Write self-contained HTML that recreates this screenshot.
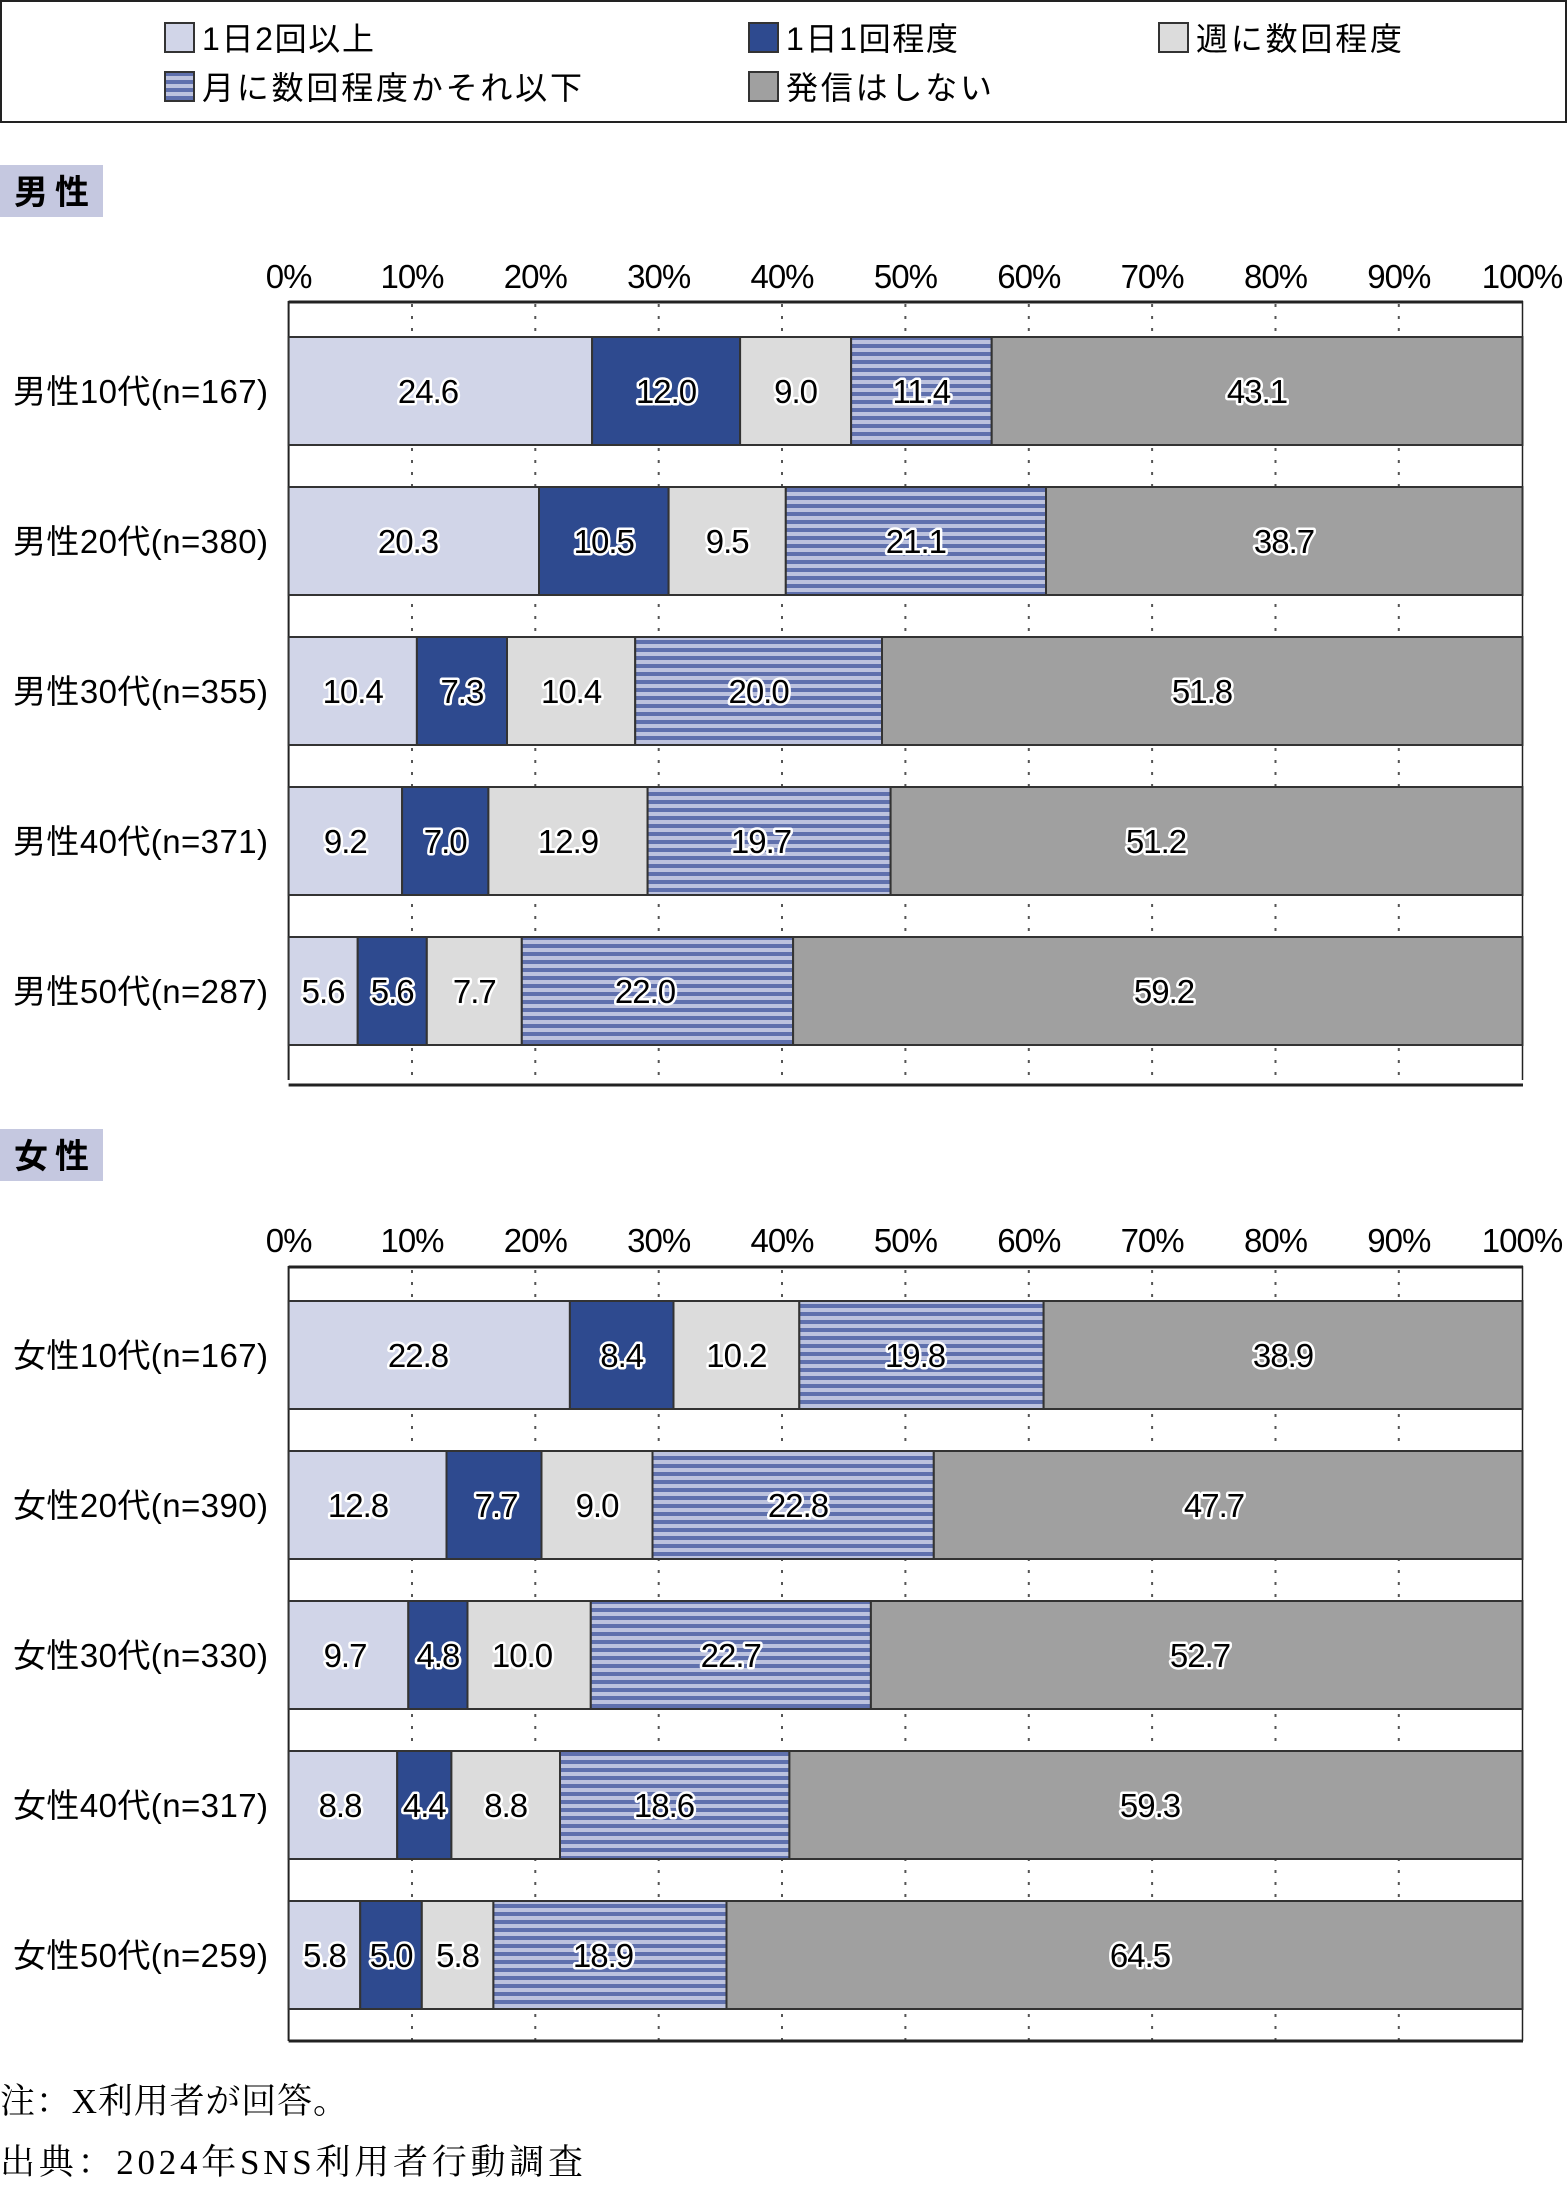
<!DOCTYPE html>
<html><head><meta charset="utf-8"><style>
body{margin:0;background:#fff}
svg{display:block}
.t{font-family:"Liberation Sans","Noto Sans CJK JP",sans-serif;fill:#000}
.v{font-family:"Liberation Sans","Noto Sans CJK JP",sans-serif;font-size:33px;text-anchor:middle;fill:#000;stroke:#fff;stroke-width:5px;paint-order:stroke;stroke-linejoin:round;letter-spacing:-1px}
.ax{font-family:"Liberation Sans",sans-serif;font-size:33px;text-anchor:middle;letter-spacing:-1px}
.c{font-family:"Liberation Sans","Noto Sans CJK JP",sans-serif;font-size:33px}
</style></head><body>
<svg width="1568" height="2187" xmlns="http://www.w3.org/2000/svg">
<defs>
<pattern id="st" width="8" height="8" patternUnits="userSpaceOnUse"><rect width="8" height="8" fill="#bcc2de"/><rect width="8" height="4" fill="#5f70ad"/></pattern>
</defs>
<rect x="1" y="1" width="1565" height="121" fill="#fff" stroke="#222" stroke-width="2"/>
<rect x="165" y="23" width="29" height="29" fill="#d1d5e8" stroke="#333" stroke-width="2"/>
<text class="t" x="202" y="50" font-size="32" textLength="172">1日2回以上</text>
<rect x="749" y="23" width="29" height="29" fill="#2e4a8f" stroke="#333" stroke-width="2"/>
<text class="t" x="786" y="50" font-size="32" textLength="172">1日1回程度</text>
<rect x="1159" y="23" width="29" height="29" fill="#dcdcdc" stroke="#333" stroke-width="2"/>
<text class="t" x="1196" y="50" font-size="32" textLength="206">週に数回程度</text>
<rect x="165" y="72" width="29" height="29" fill="url(#st)" stroke="#333" stroke-width="2"/>
<text class="t" x="202" y="99" font-size="32" textLength="380">月に数回程度かそれ以下</text>
<rect x="749" y="72" width="29" height="29" fill="#a0a0a0" stroke="#333" stroke-width="2"/>
<text class="t" x="786" y="99" font-size="32" textLength="206">発信はしない</text>

<rect x="0" y="165" width="103" height="52" fill="#c5c8e0"/>
<text class="t" x="14" y="204" font-size="34" font-weight="bold" textLength="75">男性</text>
<rect x="0" y="1129" width="103" height="52" fill="#c5c8e0"/>
<text class="t" x="14" y="1168" font-size="34" font-weight="bold" textLength="75">女性</text>

<g>
<text class="ax" x="288.6" y="288">0%</text><text class="ax" x="412" y="288">10%</text><text class="ax" x="535.3" y="288">20%</text><text class="ax" x="658.7" y="288">30%</text><text class="ax" x="782" y="288">40%</text><text class="ax" x="905.4" y="288">50%</text><text class="ax" x="1028.8" y="288">60%</text><text class="ax" x="1152.1" y="288">70%</text><text class="ax" x="1275.5" y="288">80%</text><text class="ax" x="1398.8" y="288">90%</text><text class="ax" x="1522" y="288">100%</text>
<g stroke="#555" stroke-width="2" stroke-dasharray="3,9">
<line x1="412" y1="304" x2="412" y2="1084"/><line x1="535.3" y1="304" x2="535.3" y2="1084"/><line x1="658.7" y1="304" x2="658.7" y2="1084"/><line x1="782" y1="304" x2="782" y2="1084"/><line x1="905.4" y1="304" x2="905.4" y2="1084"/><line x1="1028.8" y1="304" x2="1028.8" y2="1084"/><line x1="1152.1" y1="304" x2="1152.1" y2="1084"/><line x1="1275.5" y1="304" x2="1275.5" y2="1084"/><line x1="1398.8" y1="304" x2="1398.8" y2="1084"/>
</g>
<line x1="288.6" y1="302" x2="1523" y2="302" stroke="#222" stroke-width="3"/>
<line x1="288.6" y1="1085" x2="1523" y2="1085" stroke="#222" stroke-width="3"/>
<line x1="288.6" y1="301" x2="288.6" y2="1080" stroke="#222" stroke-width="2"/>
<line x1="1522.5" y1="301" x2="1522.5" y2="1080" stroke="#222" stroke-width="1.5"/>
</g>
<g>
<text class="ax" x="288.6" y="1252">0%</text><text class="ax" x="412" y="1252">10%</text><text class="ax" x="535.3" y="1252">20%</text><text class="ax" x="658.7" y="1252">30%</text><text class="ax" x="782" y="1252">40%</text><text class="ax" x="905.4" y="1252">50%</text><text class="ax" x="1028.8" y="1252">60%</text><text class="ax" x="1152.1" y="1252">70%</text><text class="ax" x="1275.5" y="1252">80%</text><text class="ax" x="1398.8" y="1252">90%</text><text class="ax" x="1522" y="1252">100%</text>
<g stroke="#555" stroke-width="2" stroke-dasharray="3,9">
<line x1="412" y1="1270" x2="412" y2="2040"/><line x1="535.3" y1="1270" x2="535.3" y2="2040"/><line x1="658.7" y1="1270" x2="658.7" y2="2040"/><line x1="782" y1="1270" x2="782" y2="2040"/><line x1="905.4" y1="1270" x2="905.4" y2="2040"/><line x1="1028.8" y1="1270" x2="1028.8" y2="2040"/><line x1="1152.1" y1="1270" x2="1152.1" y2="2040"/><line x1="1275.5" y1="1270" x2="1275.5" y2="2040"/><line x1="1398.8" y1="1270" x2="1398.8" y2="2040"/>
</g>
<line x1="288.6" y1="1267" x2="1523" y2="1267" stroke="#222" stroke-width="3"/>
<line x1="288.6" y1="2041" x2="1523" y2="2041" stroke="#222" stroke-width="3"/>
<line x1="288.6" y1="1266" x2="288.6" y2="2041" stroke="#222" stroke-width="2"/>
<line x1="1522.5" y1="1266" x2="1522.5" y2="2041" stroke="#222" stroke-width="1.5"/>
</g>

<g stroke="#333" stroke-width="2">
<rect x="288.6" y="337" width="303.5" height="108" fill="#d1d5e8"/><rect x="592.1" y="337" width="148" height="108" fill="#2e4a8f"/><rect x="740.1" y="337" width="111" height="108" fill="#dcdcdc"/><rect x="851.1" y="337" width="140.6" height="108" fill="url(#st)"/><rect x="991.7" y="337" width="530.8" height="108" fill="#a0a0a0"/>
<rect x="288.6" y="487" width="250.4" height="108" fill="#d1d5e8"/><rect x="539" y="487" width="129.6" height="108" fill="#2e4a8f"/><rect x="668.6" y="487" width="117.2" height="108" fill="#dcdcdc"/><rect x="785.8" y="487" width="260.2" height="108" fill="url(#st)"/><rect x="1046" y="487" width="476.5" height="108" fill="#a0a0a0"/>
<rect x="288.6" y="637" width="128.3" height="108" fill="#d1d5e8"/><rect x="416.9" y="637" width="90.1" height="108" fill="#2e4a8f"/><rect x="507" y="637" width="128.2" height="108" fill="#dcdcdc"/><rect x="635.2" y="637" width="246.8" height="108" fill="url(#st)"/><rect x="882" y="637" width="640.5" height="108" fill="#a0a0a0"/>
<rect x="288.6" y="787" width="113.5" height="108" fill="#d1d5e8"/><rect x="402.1" y="787" width="86.3" height="108" fill="#2e4a8f"/><rect x="488.4" y="787" width="159.2" height="108" fill="#dcdcdc"/><rect x="647.6" y="787" width="243" height="108" fill="url(#st)"/><rect x="890.6" y="787" width="631.9" height="108" fill="#a0a0a0"/>
<rect x="288.6" y="937" width="69.1" height="108" fill="#d1d5e8"/><rect x="357.7" y="937" width="69.1" height="108" fill="#2e4a8f"/><rect x="426.8" y="937" width="95" height="108" fill="#dcdcdc"/><rect x="521.8" y="937" width="271.3" height="108" fill="url(#st)"/><rect x="793.1" y="937" width="729.4" height="108" fill="#a0a0a0"/>
<rect x="288.6" y="1301" width="281.3" height="108" fill="#d1d5e8"/><rect x="569.9" y="1301" width="103.6" height="108" fill="#2e4a8f"/><rect x="673.5" y="1301" width="125.8" height="108" fill="#dcdcdc"/><rect x="799.3" y="1301" width="244.3" height="108" fill="url(#st)"/><rect x="1043.6" y="1301" width="478.9" height="108" fill="#a0a0a0"/>
<rect x="288.6" y="1451" width="157.9" height="108" fill="#d1d5e8"/><rect x="446.5" y="1451" width="95" height="108" fill="#2e4a8f"/><rect x="541.5" y="1451" width="111" height="108" fill="#dcdcdc"/><rect x="652.5" y="1451" width="281.3" height="108" fill="url(#st)"/><rect x="933.8" y="1451" width="588.7" height="108" fill="#a0a0a0"/>
<rect x="288.6" y="1601" width="119.7" height="108" fill="#d1d5e8"/><rect x="408.3" y="1601" width="59.2" height="108" fill="#2e4a8f"/><rect x="467.5" y="1601" width="123.3" height="108" fill="#dcdcdc"/><rect x="590.8" y="1601" width="280.1" height="108" fill="url(#st)"/><rect x="870.9" y="1601" width="651.6" height="108" fill="#a0a0a0"/>
<rect x="288.6" y="1751" width="108.6" height="108" fill="#d1d5e8"/><rect x="397.2" y="1751" width="54.2" height="108" fill="#2e4a8f"/><rect x="451.4" y="1751" width="108.6" height="108" fill="#dcdcdc"/><rect x="560" y="1751" width="229.4" height="108" fill="url(#st)"/><rect x="789.4" y="1751" width="733.1" height="108" fill="#a0a0a0"/>
<rect x="288.6" y="1901" width="71.6" height="108" fill="#d1d5e8"/><rect x="360.2" y="1901" width="61.6" height="108" fill="#2e4a8f"/><rect x="421.8" y="1901" width="71.6" height="108" fill="#dcdcdc"/><rect x="493.4" y="1901" width="233.1" height="108" fill="url(#st)"/><rect x="726.5" y="1901" width="796" height="108" fill="#a0a0a0"/>
</g>

<g class="c">
<text x="13" y="403" textLength="255">男性10代(n=167)</text>
<text x="13" y="553" textLength="255">男性20代(n=380)</text>
<text x="13" y="703" textLength="255">男性30代(n=355)</text>
<text x="13" y="853" textLength="255">男性40代(n=371)</text>
<text x="13" y="1003" textLength="255">男性50代(n=287)</text>
<text x="13" y="1367" textLength="255">女性10代(n=167)</text>
<text x="13" y="1517" textLength="255">女性20代(n=390)</text>
<text x="13" y="1667" textLength="255">女性30代(n=330)</text>
<text x="13" y="1817" textLength="255">女性40代(n=317)</text>
<text x="13" y="1967" textLength="255">女性50代(n=259)</text>
</g>

<g class="v">
<text x="428" y="403">24.6</text><text x="666" y="403">12.0</text><text x="795.6" y="403">9.0</text><text x="921.4" y="403">11.4</text><text x="1257" y="403">43.1</text>
<text x="408" y="553">20.3</text><text x="603.8" y="553">10.5</text><text x="727.2" y="553">9.5</text><text x="915.9" y="553">21.1</text><text x="1284" y="553">38.7</text>
<text x="352.7" y="703">10.4</text><text x="461.9" y="703">7.3</text><text x="571.1" y="703">10.4</text><text x="758.6" y="703">20.0</text><text x="1202" y="703">51.8</text>
<text x="345.3" y="853">9.2</text><text x="445.2" y="853">7.0</text><text x="568" y="853">12.9</text><text x="761" y="853">19.7</text><text x="1156" y="853">51.2</text>
<text x="323.1" y="1003">5.6</text><text x="392.2" y="1003">5.6</text><text x="474.3" y="1003">7.7</text><text x="645" y="1003">22.0</text><text x="1164" y="1003">59.2</text>
<text x="418" y="1367">22.8</text><text x="621.7" y="1367">8.4</text><text x="736.4" y="1367">10.2</text><text x="915" y="1367">19.8</text><text x="1283" y="1367">38.9</text>
<text x="358" y="1517">12.8</text><text x="496" y="1517">7.7</text><text x="597" y="1517">9.0</text><text x="798" y="1517">22.8</text><text x="1214" y="1517">47.7</text>
<text x="345" y="1667">9.7</text><text x="437.9" y="1667">4.8</text><text x="522" y="1667">10.0</text><text x="730.8" y="1667">22.7</text><text x="1200" y="1667">52.7</text>
<text x="340" y="1817">8.8</text><text x="424.3" y="1817">4.4</text><text x="505.7" y="1817">8.8</text><text x="664" y="1817">18.6</text><text x="1150" y="1817">59.3</text>
<text x="324.4" y="1967">5.8</text><text x="391" y="1967">5.0</text><text x="457.6" y="1967">5.8</text><text x="603" y="1967">18.9</text><text x="1140" y="1967">64.5</text>
</g>

<text x="0" y="2113" font-family="'Liberation Serif','Noto Serif CJK SC',serif" font-size="35" textLength="348">注：X利用者が回答。</text>
<text x="0" y="2174" font-family="'Liberation Serif','Noto Serif CJK SC',serif" font-size="35" textLength="583">出典：2024年SNS利用者行動調査</text>
</svg>
</body></html>
